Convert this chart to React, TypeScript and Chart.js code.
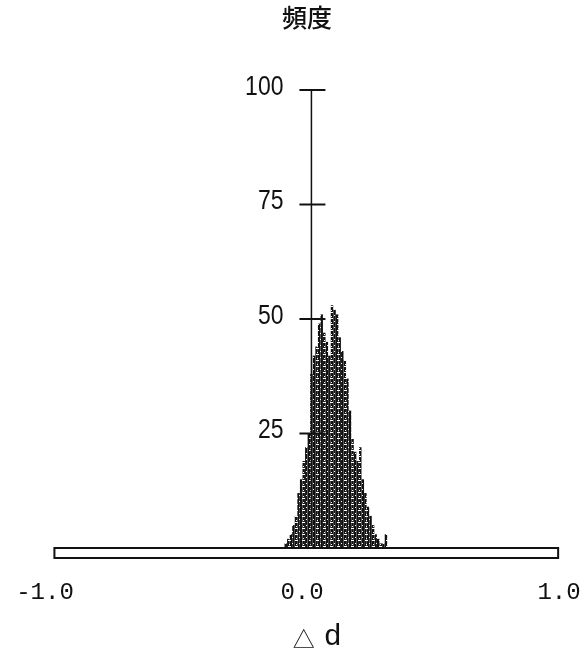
import { useEffect, useRef } from "react";
import { Chart, registerables } from "chart.js";

Chart.register(...registerables);

// Histogram of Δd (bin width 0.01)
const binCenters = [
  -0.075, -0.065, -0.055, -0.045, -0.035, -0.025, -0.015, -0.005,
  0.005, 0.015, 0.025, 0.035, 0.045, 0.055, 0.065, 0.075, 0.085, 0.095,
  0.105, 0.115, 0.125, 0.135, 0.145, 0.155, 0.165, 0.175, 0.185, 0.195,
  0.205, 0.215, 0.225, 0.235, 0.245, 0.255, 0.265, 0.275, 0.285, 0.295,
  0.305, 0.315,
];
const counts = [
  1, 2, 3, 5, 7, 12, 15, 19,
  22, 25, 38, 42, 44, 49, 51, 47, 45, 42,
  53, 52, 51, 46, 43, 41, 37, 30, 24, 21,
  19, 22, 15, 12, 9, 7, 5, 3, 2, 1,
  1, 3,
];
const yTickValues = [25, 50, 75, 100];
const xTickValues = [-1.0, 0.0, 1.0];
const yTitle = "頻度";
const xTitleSymbol = "△";
const xTitleVar = "d";
const AXIS_AT = 0.025; // x value where the vertical axis stands
const BASE_FROM = -0.975;
const BASE_TO = 0.985;

export default function App() {
  const ref = useRef<HTMLCanvasElement>(null);

  useEffect(() => {
    const canvas = ref.current!;
    const ctx2 = canvas.getContext("2d")!;

    const pc = document.createElement("canvas");
    pc.width = 7;
    pc.height = 6;
    const p = pc.getContext("2d")!;
    p.fillStyle = "#111";
    p.fillRect(0, 0, 7, 6);
    p.fillStyle = "#fff";
    p.fillRect(1, 0, 3, 1);
    p.fillRect(5, 3, 1, 1);
    p.fillRect(2, 4, 1, 1);
    const pattern = ctx2.createPattern(pc, "repeat")!;

    const deco = {
      id: "deco",
      afterDatasetsDraw(chart: any) {
        const { ctx } = chart;
        const x = chart.scales.x;
        const y = chart.scales.y;
        ctx.save();
        const ax = x.getPixelForValue(AXIS_AT);
        const y0 = y.getPixelForValue(0);
        const yTop = y.getPixelForValue(100);
        ctx.strokeStyle = "#111";
        ctx.fillStyle = "#111";
        ctx.lineWidth = 1.5;
        ctx.beginPath();
        ctx.moveTo(ax, yTop);
        ctx.lineTo(ax, y0 - 2);
        ctx.stroke();

        ctx.lineWidth = 2;
        for (const v of yTickValues) {
          const py = y.getPixelForValue(v);
          ctx.beginPath();
          ctx.moveTo(ax - 12, py);
          ctx.lineTo(ax + 14, py);
          ctx.stroke();
          ctx.save();
          ctx.translate(ax - 28, py - 3);
          ctx.scale(0.82, 1);
          ctx.font = "28px 'Liberation Sans', sans-serif";
          ctx.textAlign = "right";
          ctx.textBaseline = "middle";
          ctx.fillText(String(v), 0, 0);
          ctx.restore();
        }

        // baseline bar
        const bl = x.getPixelForValue(BASE_FROM);
        const br = x.getPixelForValue(BASE_TO);
        ctx.fillStyle = "#fff";
        ctx.fillRect(bl, y0, br - bl, 10);
        ctx.strokeRect(bl, y0, br - bl, 10);

        // x tick labels
        ctx.fillStyle = "#111";
        ctx.font = "24px 'Liberation Mono', 'DejaVu Sans Mono', monospace";
        ctx.textAlign = "center";
        ctx.textBaseline = "alphabetic";
        for (const v of xTickValues) {
          ctx.fillText(v.toFixed(1), x.getPixelForValue(v) - 3, y0 + 51);
        }

        // axis titles
        const tx = x.getPixelForValue(0.05);
        ctx.font = "22px 'Noto Sans CJK JP', sans-serif";
        ctx.textAlign = "right";
        ctx.fillText(xTitleSymbol, tx - 3, y0 + 99);
        ctx.font = "30px 'Liberation Mono', 'DejaVu Sans Mono', monospace";
        ctx.textAlign = "left";
        ctx.fillText(xTitleVar, tx + 6, y0 + 97);
        ctx.font = "500 25px 'Noto Sans CJK JP', sans-serif";
        ctx.textAlign = "center";
        ctx.textBaseline = "middle";
        ctx.fillText(yTitle, x.getPixelForValue(0.008), yTop - 73);
        ctx.restore();
      },
    };

    const chart = new Chart(canvas, {
      type: "bar",
      data: {
        datasets: [
          {
            data: binCenters.map((c, i) => ({ x: c, y: counts[i] })),
            backgroundColor: pattern,
            borderWidth: 0,
            barPercentage: 0.95,
            categoryPercentage: 1,
          },
        ],
      },
      options: {
        animation: false,
        responsive: true,
        maintainAspectRatio: false,
        layout: { padding: { left: 48, right: 22, top: 90, bottom: 111 } },
        plugins: { legend: { display: false }, tooltip: { enabled: false } },
        scales: {
          x: { type: "linear", min: -1, max: 1, display: false, offset: false },
          y: { min: 0, max: 100, display: false },
        },
      },
      plugins: [deco],
    });
    return () => chart.destroy();
  }, []);

  return (
    <div style={{ position: "fixed", left: 0, top: 0, width: 584, height: 659, background: "#fff" }}>
      <canvas ref={ref} />
    </div>
  );
}
